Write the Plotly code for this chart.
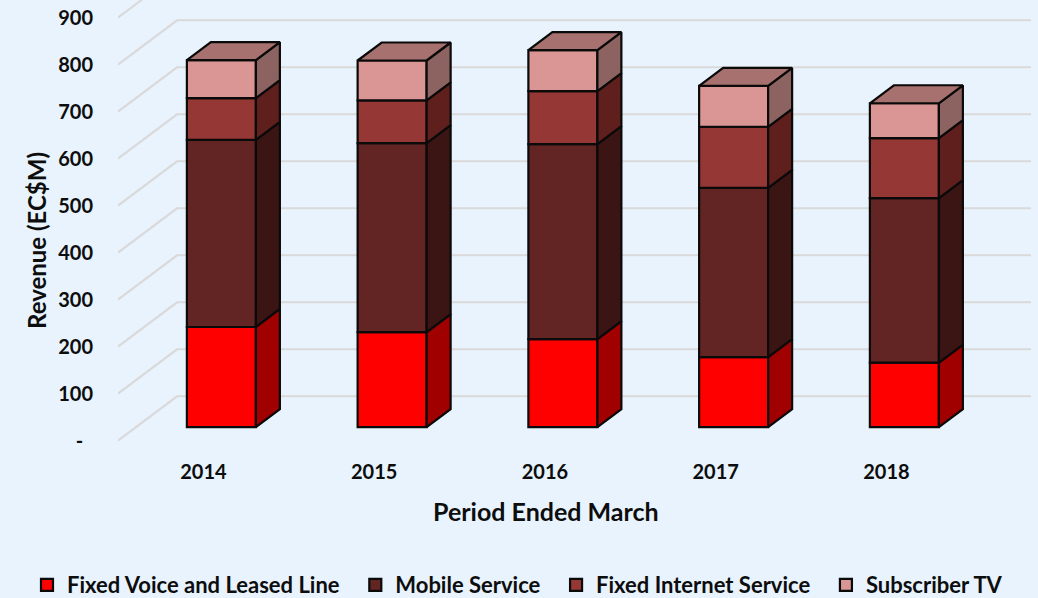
import plotly.graph_objects as go

# ---- data ----
categories = ["2014", "2015", "2016", "2017", "2018"]
fixed_voice = [213, 202, 187, 149, 137]
mobile = [398, 402, 415, 360, 350]
fixed_internet = [89, 91, 113, 130, 128]
subscriber_tv = [81, 85, 87, 87, 74]
y_ticks = [0, 100, 200, 300, 400, 500, 600, 700, 800, 900]
y_tick_labels = ["-\u00a0\u00a0", "100", "200", "300", "400", "500", "600", "700", "800", "900"]
series_names = ["Fixed Voice and Leased Line", "Mobile Service", "Fixed Internet Service", "Subscriber TV"]
front_colors = ["#FF0000", "#632523", "#953735", "#D99694"]
side_colors = ["#A00000", "#3B1513", "#5E1F1D", "#8D6361"]
top_color = "#A6716E"

# ---- scale of the oblique projection ----
W, H = 1038, 598
LEFT, RIGHT, FLOOR = 118, 1031, 440.6
PX_PER_SLOT = 170.75
PX_PER_VALUE = 0.47
Y_BOTTOM = -20
BOTTOM_PX = FLOOR - Y_BOTTOM * PX_PER_VALUE
Y_TOP = FLOOR / PX_PER_VALUE
X_MIN = -0.5
X_MAX = X_MIN + (RIGHT - LEFT) / PX_PER_SLOT


def dx(px):
    return px / PX_PER_SLOT


def dy(px):
    return 0.75 * px / PX_PER_VALUE


BAR_FRONT, BAR_DEPTH, WALL_DEPTH = 18, 24, 59
BAR_W = dx(69)
EDGE = dict(color="#0A0A0A", width=2.2)
FONT = "Lato"
TXT = "#0D0D0D"
LEGEND_PAD = "\u00a0\u00a0"

values = [fixed_voice, mobile, fixed_internet, subscriber_tv]
fig = go.Figure()
idx = list(range(len(categories)))

# front faces
cum = [0.0] * len(categories)
stacks = []
for name, vals, col in zip(series_names, values, front_colors):
    base = [c + dy(BAR_FRONT) for c in cum]
    fig.add_trace(go.Bar(
        x=[i + dx(BAR_FRONT) for i in idx], y=vals, base=base, width=BAR_W, name=name + LEGEND_PAD,
        marker=dict(color=col, line=EDGE), hoverinfo="skip"))
    stacks.append((list(cum), [c + v for c, v in zip(cum, vals)]))
    cum = stacks[-1][1]

# side faces
for (low, high), col in zip(stacks, side_colors):
    xs, ys = [], []
    for i in idx:
        xr = i + dx(BAR_FRONT) + BAR_W / 2
        y0, y1 = low[i] + dy(BAR_FRONT), high[i] + dy(BAR_FRONT)
        xs += [xr, xr + dx(BAR_DEPTH), xr + dx(BAR_DEPTH), xr, xr, None]
        ys += [y0, y0 + dy(BAR_DEPTH), y1 + dy(BAR_DEPTH), y1, y0, None]
    fig.add_trace(go.Scatter(x=xs, y=ys, mode="lines", fill="toself", fillcolor=col, line=EDGE,
                             showlegend=False, hoverinfo="skip"))

# top faces
xs, ys = [], []
for i in idx:
    xl = i + dx(BAR_FRONT) - BAR_W / 2
    xr = xl + BAR_W
    t = cum[i] + dy(BAR_FRONT)
    xs += [xl, xr, xr + dx(BAR_DEPTH), xl + dx(BAR_DEPTH), xl, None]
    ys += [t, t, t + dy(BAR_DEPTH), t + dy(BAR_DEPTH), t, None]
fig.add_trace(go.Scatter(x=xs, y=ys, mode="lines", fill="toself", fillcolor=top_color, line=EDGE,
                         showlegend=False, hoverinfo="skip"))

# walls: gridlines run over the floor side wall, then along the back wall
shapes = []
for v in y_ticks:
    path = (f"M {X_MIN} {v} L {X_MIN + dx(WALL_DEPTH)} {v + dy(WALL_DEPTH)} L {X_MAX} {v + dy(WALL_DEPTH)}")
    shapes.append(dict(type="path", path=path, xref="x", yref="y", layer="below",
                       line=dict(color="#D9D9D9", width=2)))


def paper_y(px):
    return (BOTTOM_PX - px) / BOTTOM_PX


fig.update_layout(
    width=W, height=H, autosize=False,
    margin=dict(l=LEFT, r=W - RIGHT, t=0, b=H - BOTTOM_PX, pad=0, autoexpand=False),
    paper_bgcolor="#E8F3FE", plot_bgcolor="rgba(0,0,0,0)",
    barmode="overlay", shapes=shapes, showlegend=True,
    font=dict(family=FONT, size=20, color=TXT, weight=700),
    xaxis=dict(range=[X_MIN, X_MAX], tickmode="array", tickvals=idx, ticktext=categories,
               showgrid=False, zeroline=False, showline=False, ticks="outside", ticklen=4,
               tickcolor="rgba(0,0,0,0)", tickfont=dict(family=FONT, size=20, color=TXT, weight=700)),
    yaxis=dict(range=[Y_BOTTOM, Y_TOP], tickmode="array", tickvals=y_ticks, ticktext=y_tick_labels,
               showgrid=False, zeroline=False, showline=False, ticks="outside", ticklen=20,
               tickcolor="rgba(0,0,0,0)", tickfont=dict(family=FONT, size=20, color=TXT, weight=700)),
    legend=dict(orientation="h", xref="paper", yref="paper", x=(27 - LEFT) / (RIGHT - LEFT), y=paper_y(585),
                xanchor="left", yanchor="middle", bgcolor="rgba(0,0,0,0)",
                font=dict(family=FONT, size=22, color=TXT, weight=700)),
    annotations=[
        dict(text="Period Ended March", xref="paper", yref="paper", x=(546 - LEFT) / (RIGHT - LEFT),
             y=paper_y(511), showarrow=False, xanchor="center", yanchor="middle",
             font=dict(family=FONT, size=25, color=TXT, weight=700)),
        dict(text="Revenue (EC$M)", xref="paper", yref="paper", x=(36 - LEFT) / (RIGHT - LEFT),
             y=paper_y(241), showarrow=False, textangle=-90,
             xanchor="center", yanchor="middle",
             font=dict(family=FONT, size=24, color=TXT, weight=700)),
    ],
)

fig.write_html("out.html", post_script="document.body.style.margin='0';",
               config={"displayModeBar": False})
